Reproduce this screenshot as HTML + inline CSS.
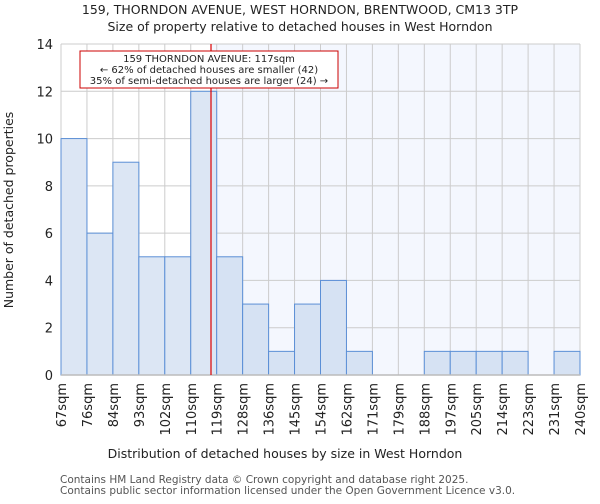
<!DOCTYPE html>
<html><head><meta charset="utf-8"><style>
body{margin:0;background:#fff;font-family:"DejaVu Sans","Liberation Sans",sans-serif}
svg text{font-family:"DejaVu Sans","Liberation Sans",sans-serif;fill:#222}
</style></head><body>
<svg id="c" width="600" height="500">
<text x="300" y="14" font-size="12.5" text-anchor="middle">159, THORNDON AVENUE, WEST HORNDON, BRENTWOOD, CM13 3TP</text>
<text x="300" y="31" font-size="12.5" text-anchor="middle">Size of property relative to detached houses in West Horndon</text>
<g id="plot"></g>
<text x="285" y="458" font-size="12.5" text-anchor="middle">Distribution of detached houses by size in West Horndon</text>
<text transform="translate(13,210) rotate(-90)" font-size="12.5" text-anchor="middle">Number of detached properties</text>
<text x="60" y="483" font-size="10.5" style="fill:#555">Contains HM Land Registry data © Crown copyright and database right 2025.</text>
<text x="60" y="494" font-size="10.5" style="fill:#555">Contains public sector information licensed under the Open Government Licence v3.0.</text>
</svg>
<script>
const edgeLabels=["67sqm","76sqm","84sqm","93sqm","102sqm","110sqm","119sqm","128sqm","136sqm","145sqm","154sqm","162sqm","171sqm","179sqm","188sqm","197sqm","205sqm","214sqm","223sqm","231sqm","240sqm"];
const counts=[10,6,9,5,5,12,5,3,1,3,4,1,0,0,1,1,1,1,0,1];
const yTicks=[0,2,4,6,8,10,12,14];
const propertySize=117;
const minSize=67, maxSize=240;
const L=61,R=580,T=44,B=375,yMax=14;
const n=counts.length, bw=(R-L)/n;
const xIdx=i=>L+i*bw;
const xVal=v=>L+(v-minSize)/(maxSize-minSize)*(R-L);
const y=v=>B-v/yMax*(B-T);
const NS="http://www.w3.org/2000/svg";
const g=document.getElementById('plot');
function mk(t,a){const e=document.createElementNS(NS,t);for(const k in a)e.setAttribute(k,a[k]);g.appendChild(e);return e;}
const px=xVal(propertySize);
let e=mk('rect',{x:px,y:T,width:R-px,height:B-T,fill:'#f4f7fe'});


yTicks.forEach(t=>{
 let l=mk('line',{x1:L,x2:R,y1:y(t),y2:y(t),stroke:'#cccccc','stroke-width':1});
 
 
 let tx=mk('text',{x:L-8,y:y(t)+5,'font-size':13,'text-anchor':'end'});tx.textContent=t;
 
 
});
edgeLabels.forEach((lab,i)=>{
 let l=mk('line',{x1:xIdx(i),x2:xIdx(i),y1:T,y2:B,stroke:'#cccccc','stroke-width':1});
 
 
 let tx=mk('text',{transform:`translate(${xIdx(i)+5},${B+8}) rotate(-90)`,'font-size':13,'text-anchor':'end'});tx.textContent=lab;
 
 
});
counts.forEach((c,i)=>{
 if(c<=0)return;
 let r=mk('rect',{x:xIdx(i),y:y(c),width:bw,height:B-y(c),fill:xIdx(i)>=px?'#d6e2f3':'#dce6f4',stroke:'#5b8fd6','stroke-width':1});
 
 
});
let ax=mk('line',{x1:L,x2:R,y1:B,y2:B,stroke:'#bbb','stroke-width':1.5});


let rl=mk('line',{x1:px,x2:px,y1:T,y2:B,stroke:'#d00','stroke-width':1.2});


let box=mk('rect',{x:80,y:51,width:258,height:37,fill:'#fff',stroke:'#c00','stroke-width':1});


["159 THORNDON AVENUE: 117sqm","← 62% of detached houses are smaller (42)","35% of semi-detached houses are larger (24) →"].forEach((s,i)=>{
 let t=mk('text',{x:209,y:62+i*11,'font-size':10,'text-anchor':'middle'});t.textContent=s;
 
 
});
</script>
</body></html>
